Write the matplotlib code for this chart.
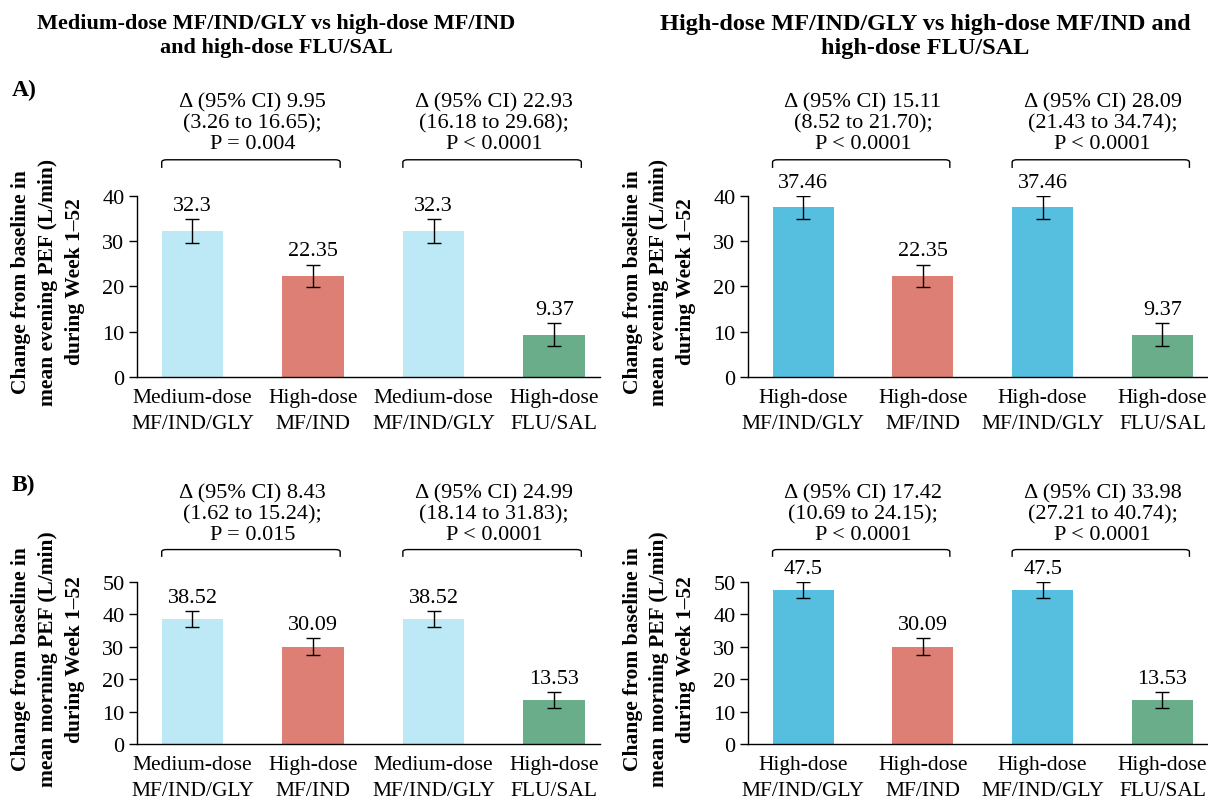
import matplotlib
matplotlib.use("Agg")
import matplotlib.pyplot as plt
import matplotlib.transforms as mtransforms
from matplotlib.path import Path
from matplotlib.patches import PathPatch

plt.rcParams['font.family'] = ['Liberation Serif', 'DejaVu Serif']

# x categories (two-line tick labels)
labels_left = ["Medium-dose\nMF/IND/GLY", "High-dose\nMF/IND",
               "Medium-dose\nMF/IND/GLY", "High-dose\nFLU/SAL"]
labels_right = ["High-dose\nMF/IND/GLY", "High-dose\nMF/IND",
                "High-dose\nMF/IND/GLY", "High-dose\nFLU/SAL"]

# evening PEF (panel A)
evening_left = [32.3, 22.35, 32.3, 9.37]
evening_left_err = [2.65, 2.5, 2.65, 2.6]
evening_right = [37.46, 22.35, 37.46, 9.37]
evening_right_err = [2.55, 2.5, 2.55, 2.6]

# morning PEF (panel B)
morning_left = [38.52, 30.09, 38.52, 13.53]
morning_left_err = [2.4, 2.5, 2.4, 2.45]
morning_right = [47.5, 30.09, 47.5, 13.53]
morning_right_err = [2.4, 2.5, 2.4, 2.45]

# treatment differences shown above the brackets
diff_A_left = ["\u0394 (95% CI) 9.95\n(3.26 to 16.65);\nP = 0.004",
               "\u0394 (95% CI) 22.93\n(16.18 to 29.68);\nP < 0.0001"]
diff_A_right = ["\u0394 (95% CI) 15.11\n(8.52 to 21.70);\nP < 0.0001",
                "\u0394 (95% CI) 28.09\n(21.43 to 34.74);\nP < 0.0001"]
diff_B_left = ["\u0394 (95% CI) 8.43\n(1.62 to 15.24);\nP = 0.015",
               "\u0394 (95% CI) 24.99\n(18.14 to 31.83);\nP < 0.0001"]
diff_B_right = ["\u0394 (95% CI) 17.42\n(10.69 to 24.15);\nP < 0.0001",
                "\u0394 (95% CI) 33.98\n(27.21 to 40.74);\nP < 0.0001"]

titles = ["Medium-dose MF/IND/GLY vs high-dose MF/IND\nand high-dose FLU/SAL",
          "High-dose MF/IND/GLY vs high-dose MF/IND and\nhigh-dose FLU/SAL"]

LIGHT_BLUE = "#bde8f5"
BLUE = "#56bfe0"
SALMON = "#de7f76"
GREEN = "#6aad8a"
colors_left = [LIGHT_BLUE, SALMON, LIGHT_BLUE, GREEN]
colors_right = [BLUE, SALMON, BLUE, GREEN]

FS = 15.5
x = [0, 1, 2, 3]
width = 0.51


def bracket(ax, x0, x1, yb, trans):
    # square bracket with slightly rounded corners
    h = 0.045
    r = 0.04
    verts = [(x0, yb - h), (x0, yb - h * 0.3), (x0, yb), (x0 + r, yb),
             (x1 - r, yb), (x1, yb), (x1, yb - h * 0.3), (x1, yb - h)]
    codes = [Path.MOVETO, Path.LINETO, Path.CURVE3, Path.CURVE3,
             Path.LINETO, Path.CURVE3, Path.CURVE3, Path.LINETO]
    patch = PathPatch(Path(verts, codes), facecolor='none', edgecolor='black',
                      lw=1, transform=trans, clip_on=False)
    ax.add_patch(patch)


def draw_panel(ax, values, errs, colors, ticklabels, diffs, ymax, ylabel):
    ax.bar(x, values, width=width, color=colors, zorder=2)
    ax.errorbar(x, values, yerr=errs, fmt='none', ecolor='black',
                elinewidth=1, capsize=5, capthick=1, zorder=3)
    for xi, v, e in zip(x, values, errs):
        ax.annotate(f"{v:g}", (xi, v + e), xytext=(0, 3), textcoords='offset points',
                    ha='center', va='bottom', fontsize=16)

    ax.set_xlim(-0.46, 3.38)
    ax.set_ylim(0, ymax)
    ax.set_yticks(range(0, ymax + 1, 10))
    ax.set_xticks(x)
    ax.set_xticklabels(ticklabels, fontsize=FS, linespacing=1.5)
    ax.tick_params(axis='x', length=0, pad=8)
    ax.tick_params(axis='y', labelsize=16, length=6, width=1, pad=3)
    for side in ['top', 'right']:
        ax.spines[side].set_visible(False)
    ax.spines['left'].set_linewidth(1)
    ax.spines['bottom'].set_linewidth(1)

    ax.set_ylabel(ylabel, fontsize=FS, fontweight='bold', linespacing=1.45)
    ax.yaxis.set_label_coords(-0.113, 0.53)

    # brackets and difference text above the axes
    trans = mtransforms.blended_transform_factory(ax.transData, ax.transAxes)
    yb = 1.2
    for (i, j), txt in zip([(0, 1), (2, 3)], diffs):
        x0 = x[i] - width / 2
        x1 = x[j] + width / 2 - 0.03
        bracket(ax, x0, x1, yb, trans)
        ax.text((x[i] + x[j]) / 2, yb + 0.035, txt, transform=trans, ha='center',
                va='bottom', fontsize=16, linespacing=1.12)


fig = plt.figure(figsize=(12.08, 8.03), dpi=100)

ax_al = fig.add_axes([0.1134, 0.5293, 0.3833, 0.2254])
ax_ar = fig.add_axes([0.6192, 0.5293, 0.3808, 0.2254])
ax_bl = fig.add_axes([0.1134, 0.0722, 0.3833, 0.2018])
ax_br = fig.add_axes([0.6192, 0.0722, 0.3808, 0.2018])

ylab_A = "Change from baseline in\nmean evening PEF (L/min)\nduring Week 1\u201352"
ylab_B = "Change from baseline in\nmean morning PEF (L/min)\nduring Week 1\u201352"

draw_panel(ax_al, evening_left, evening_left_err, colors_left, labels_left,
           diff_A_left, 40, ylab_A)
draw_panel(ax_ar, evening_right, evening_right_err, colors_right, labels_right,
           diff_A_right, 40, ylab_A)
draw_panel(ax_bl, morning_left, morning_left_err, colors_left, labels_left,
           diff_B_left, 50, ylab_B)
draw_panel(ax_br, morning_right, morning_right_err, colors_right, labels_right,
           diff_B_right, 50, ylab_B)

fig.text(0.2285, 0.955, titles[0], ha='center', va='center', fontsize=16,
         fontweight='bold', linespacing=1.3)
fig.text(0.766, 0.955, titles[1], ha='center', va='center', fontsize=17.5,
         fontweight='bold', linespacing=1.2)
fig.text(0.01, 1 - 90 / 803, "A)", ha='left', va='center', fontsize=17, fontweight='bold')
fig.text(0.01, 1 - 485 / 803, "B)", ha='left', va='center', fontsize=17, fontweight='bold')

fig.savefig("out.png", dpi=100)
